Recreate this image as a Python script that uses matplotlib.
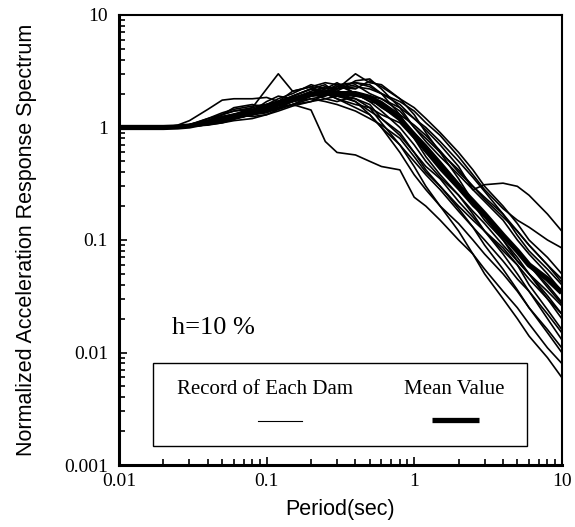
import matplotlib.pyplot as plt
from matplotlib.patches import Rectangle

# Periods (sec) at which the spectra are read
periods = [0.01, 0.02, 0.025, 0.03, 0.04, 0.05, 0.06, 0.08, 0.1, 0.12, 0.15,
           0.2, 0.25, 0.3, 0.4, 0.5, 0.6, 0.8, 1.0, 1.2, 1.5, 2.0, 2.5, 3.0,
           4.0, 5.0, 6.0, 8.0, 10.0]

# Normalized acceleration response spectra, one per dam (h = 10 %)
dam_01 = [1.0, 1.0, 1.02, 1.06, 1.15, 1.3, 1.4, 1.5, 2.2, 3.0, 2.1, 2.3, 2.0, 1.9, 1.7, 1.4, 1.2, 0.85, 0.6, 0.45, 0.35, 0.22, 0.16, 0.12, 0.08, 0.06, 0.045, 0.03, 0.022]
dam_02 = [1.0, 1.0, 1.05, 1.15, 1.45, 1.75, 1.8, 1.8, 1.85, 1.7, 1.9, 2.2, 2.0, 1.8, 1.5, 1.3, 1.0, 0.7, 0.5, 0.38, 0.28, 0.18, 0.13, 0.1, 0.065, 0.045, 0.035, 0.022, 0.015]
dam_03 = [1.0, 1.0, 1.01, 1.03, 1.1, 1.2, 1.25, 1.35, 1.4, 1.5, 1.6, 1.43, 0.75, 0.6, 0.57, 0.5, 0.45, 0.42, 0.24, 0.2, 0.15, 0.1, 0.075, 0.055, 0.035, 0.025, 0.018, 0.011, 0.008]
dam_04 = [1.0, 1.0, 1.01, 1.04, 1.12, 1.2, 1.3, 1.4, 1.5, 1.7, 1.8, 2.0, 2.3, 2.2, 3.0, 2.5, 2.4, 1.8, 1.3, 0.9, 0.6, 0.35, 0.22, 0.16, 0.1, 0.065, 0.05, 0.03, 0.02]
dam_05 = [1.0, 1.0, 1.0, 1.02, 1.08, 1.15, 1.2, 1.3, 1.4, 1.5, 1.7, 1.9, 2.1, 2.2, 2.3, 2.2, 2.0, 1.6, 1.2, 0.95, 0.7, 0.45, 0.28, 0.31, 0.32, 0.3, 0.25, 0.17, 0.12]
dam_06 = [1.0, 1.0, 1.01, 1.03, 1.1, 1.2, 1.3, 1.45, 1.6, 1.7, 1.8, 2.0, 2.1, 2.4, 2.5, 2.3, 2.0, 1.7, 1.4, 1.1, 0.85, 0.55, 0.38, 0.28, 0.19, 0.15, 0.13, 0.1, 0.085]
dam_07 = [1.0, 1.0, 1.01, 1.02, 1.06, 1.12, 1.2, 1.3, 1.45, 1.6, 1.7, 1.9, 2.1, 2.0, 1.8, 1.5, 1.1, 0.7, 0.45, 0.3, 0.2, 0.12, 0.075, 0.05, 0.03, 0.02, 0.014, 0.009, 0.006]
dam_08 = [1.0, 1.0, 1.02, 1.05, 1.2, 1.35, 1.45, 1.55, 1.6, 1.8, 2.0, 2.4, 2.2, 2.5, 2.0, 1.7, 1.6, 1.2, 0.9, 0.7, 0.5, 0.32, 0.22, 0.17, 0.11, 0.08, 0.06, 0.04, 0.028]
dam_09 = [1.0, 1.0, 1.01, 1.03, 1.1, 1.25, 1.3, 1.25, 1.3, 1.45, 1.6, 1.8, 1.9, 2.1, 2.6, 2.7, 2.2, 1.5, 1.0, 0.75, 0.55, 0.38, 0.28, 0.22, 0.15, 0.1, 0.075, 0.05, 0.035]
dam_10 = [1.0, 1.0, 1.0, 1.02, 1.05, 1.1, 1.15, 1.2, 1.3, 1.4, 1.55, 1.7, 1.8, 1.9, 2.0, 1.9, 1.8, 1.4, 1.0, 0.8, 0.6, 0.42, 0.3, 0.23, 0.16, 0.12, 0.09, 0.06, 0.045]
dam_11 = [1.0, 1.0, 1.02, 1.06, 1.2, 1.3, 1.5, 1.6, 1.5, 1.6, 1.9, 2.2, 2.4, 2.0, 1.7, 1.3, 1.0, 0.6, 0.38, 0.28, 0.2, 0.14, 0.1, 0.075, 0.05, 0.035, 0.025, 0.016, 0.011]
dam_12 = [1.0, 1.0, 1.01, 1.04, 1.1, 1.15, 1.25, 1.4, 1.7, 1.9, 1.8, 2.0, 1.8, 1.7, 1.9, 1.8, 1.5, 1.2, 0.85, 0.6, 0.45, 0.3, 0.21, 0.15, 0.1, 0.07, 0.05, 0.032, 0.022]
dam_13 = [1.0, 1.0, 1.01, 1.02, 1.08, 1.15, 1.2, 1.35, 1.5, 1.5, 1.7, 2.0, 2.2, 2.3, 2.2, 2.6, 2.3, 1.8, 1.5, 1.2, 0.9, 0.6, 0.42, 0.3, 0.2, 0.14, 0.1, 0.07, 0.05]
dam_14 = [1.0, 1.0, 1.0, 1.02, 1.06, 1.1, 1.18, 1.3, 1.4, 1.55, 1.7, 1.8, 1.7, 1.6, 1.4, 1.2, 1.05, 0.8, 0.55, 0.4, 0.3, 0.2, 0.15, 0.12, 0.085, 0.06, 0.04, 0.024, 0.016]
dam_15 = [1.0, 1.0, 1.02, 1.04, 1.15, 1.25, 1.3, 1.4, 1.6, 1.7, 2.1, 2.3, 2.5, 2.4, 2.0, 1.7, 1.4, 1.0, 0.7, 0.5, 0.36, 0.25, 0.18, 0.14, 0.09, 0.065, 0.05, 0.035, 0.026]
dam_16 = [1.0, 1.0, 1.01, 1.03, 1.1, 1.2, 1.25, 1.3, 1.35, 1.5, 1.6, 1.9, 2.0, 2.3, 2.5, 2.4, 2.0, 1.3, 0.8, 0.55, 0.38, 0.25, 0.17, 0.12, 0.075, 0.05, 0.035, 0.02, 0.013]
dam_17 = [1.0, 1.0, 1.01, 1.03, 1.09, 1.15, 1.22, 1.35, 1.5, 1.65, 1.8, 2.1, 2.3, 2.1, 1.9, 1.9, 1.7, 1.3, 1.05, 0.85, 0.62, 0.4, 0.3, 0.24, 0.17, 0.11, 0.08, 0.055, 0.04]
dam_18 = [1.0, 1.0, 1.02, 1.05, 1.15, 1.3, 1.4, 1.45, 1.4, 1.6, 1.8, 1.9, 2.0, 1.8, 1.6, 1.5, 1.3, 1.1, 0.8, 0.6, 0.42, 0.28, 0.2, 0.16, 0.11, 0.08, 0.06, 0.038, 0.027]
dam_19 = [1.0, 1.0, 1.01, 1.02, 1.07, 1.14, 1.2, 1.3, 1.38, 1.45, 1.6, 1.7, 1.95, 2.2, 2.4, 2.0, 1.8, 1.5, 1.2, 1.0, 0.75, 0.5, 0.36, 0.27, 0.17, 0.12, 0.09, 0.06, 0.042]
dam_20 = [1.0, 1.0, 1.01, 1.04, 1.12, 1.22, 1.3, 1.5, 1.6, 1.7, 1.9, 2.2, 2.1, 1.9, 1.8, 1.6, 1.2, 0.9, 0.6, 0.42, 0.3, 0.19, 0.13, 0.09, 0.055, 0.036, 0.025, 0.015, 0.01]

mean_value = [1.0, 1.0, 1.01, 1.03, 1.11, 1.2, 1.27, 1.37, 1.5, 1.65, 1.78, 1.98, 2.02, 2.0, 2.0, 1.85, 1.6, 1.2, 0.85, 0.64, 0.46, 0.3, 0.22, 0.17, 0.11, 0.08, 0.06, 0.045, 0.034]

records = [dam_01, dam_02, dam_03, dam_04, dam_05, dam_06, dam_07, dam_08, dam_09, dam_10,
           dam_11, dam_12, dam_13, dam_14, dam_15, dam_16, dam_17, dam_18, dam_19, dam_20]

serif = 'Liberation Serif'
sans = 'Liberation Sans'

fig = plt.figure(figsize=(5.75, 5.27), dpi=100)
ax = fig.add_axes([0.207, 0.1176, 0.770, 0.854])

for rec in records:
    ax.plot(periods, rec, color='black', lw=1.2)
ax.plot(periods, mean_value, color='black', lw=3.8, solid_capstyle='butt')

ax.set_xscale('log')
ax.set_yscale('log')
ax.set_xlim(0.01, 10)
ax.set_ylim(0.001, 10)

ax.set_xticks([0.01, 0.1, 1, 10])
ax.set_xticklabels(['0.01', '0.1', '1', '10'])
ax.set_yticks([0.001, 0.01, 0.1, 1, 10])
ax.set_yticklabels(['0.001', '0.01', '0.1', '1', '10'])
ax.tick_params(which='both', direction='in', top=False, right=False, width=1.2)
ax.tick_params(which='major', length=6, labelsize=14)
ax.tick_params(axis='y', which='major', pad=8)
ax.tick_params(axis='x', which='major', pad=6)
ax.tick_params(which='minor', length=4)
for lab in ax.get_xticklabels() + ax.get_yticklabels():
    lab.set_family(serif)

for side in ['left', 'bottom']:
    ax.spines[side].set_linewidth(2.2)
for side in ['top', 'right']:
    ax.spines[side].set_linewidth(1.5)

ax.set_xlabel('Period(sec)', fontsize=15.5, family=sans, labelpad=6)
ax.set_ylabel('Normalized Acceleration Response Spectrum', fontsize=15.5, family=sans)
ax.yaxis.set_label_coords(-0.185, 0.5)

# Damping annotation
ax.text(0.12, 0.304, 'h=10 %', transform=ax.transAxes, fontsize=19,
        family=serif, va='center', ha='left')

# Legend box
ax.add_patch(Rectangle((0.077, 0.042), 0.844, 0.185, transform=ax.transAxes,
                       fill=True, facecolor='white', edgecolor='black', lw=1.0, zorder=5))
ax.text(0.33, 0.167, 'Record of Each Dam', transform=ax.transAxes, fontsize=15,
        family=serif, ha='center', va='center', zorder=6)
ax.text(0.758, 0.167, 'Mean Value', transform=ax.transAxes, fontsize=15,
        family=serif, ha='center', va='center', zorder=6)
ax.plot([0.314, 0.413], [0.098, 0.098], transform=ax.transAxes, color='black', lw=0.8, zorder=6)
ax.plot([0.707, 0.813], [0.1, 0.1], transform=ax.transAxes, color='black', lw=3.8,
        solid_capstyle='butt', zorder=6)

fig.savefig('out.png', dpi=100)
